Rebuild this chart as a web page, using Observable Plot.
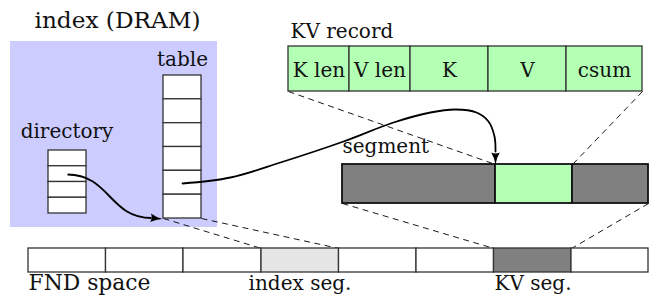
<!DOCTYPE html>
<html>
<head>
<meta charset="utf-8">
<script src="https://cdn.jsdelivr.net/npm/d3@7"></script>
<script src="https://cdn.jsdelivr.net/npm/@observablehq/plot@0.6"></script>
<style>
  html, body { margin: 0; padding: 0; background: #fff; }
  svg { display: block; }
</style>
</head>
<body>
<script>
// ---- Diagram data (diagram units) ----
// FND space: eight equal segments, two of them in use
const fndBounds = [28, 105.5, 183, 261, 338.5, 416, 493.5, 571, 648];
const fndKinds  = ["free", "free", "free", "index", "free", "free", "kv", "free"];
const fndTop = 248, fndBottom = 272;

// KV record fields
const kvFields = ["K len", "V len", "K", "V", "csum"];
const kvBounds = [288, 349, 410, 488, 566, 642];
const kvTop = 46, kvBottom = 91;

// segment (with one KV record inside)
const segBounds = [342, 495, 572, 648];
const segKinds  = ["other", "record", "other"];
const segTop = 164, segBottom = 203;

// index in DRAM: directory (4 slots) and table (6 slots)
const dirRows   = [150, 165.75, 181.5, 197.25, 213];
const dirX      = [48, 86];
const tableRows = [75, 98.8, 122.7, 146.5, 170.3, 194.2, 218];
const tableX    = [163, 201];
const dramBox   = [10, 217, 41, 227]; // x1, x2, y1, y2

// dashed "zoom" lines: [x1, y1, x2, y2]
const zoomLines = [
  [163, 218, 261, 248],
  [201, 218, 338.5, 248],
  [288, 91, 495, 164],
  [642, 91, 572, 164],
  [342, 203, 493.5, 248],
  [648, 203, 571, 248]
];

// pointer from directory slot to table
const dirPointer = [67, 174, 151, 217.5];
const dirPointerTip = [162, 218.5];
// pointer from table slot to KV record in segment (path)
const tablePointerX = [182, 230, 280, 343, 393, 430, 455, 476, 488, 494, 495];
const tablePointerY = [183, 177, 162, 141, 122, 112, 109, 112, 121, 136, 151];
const tablePointerTip = [495, 164];

// labels
const labelText = ["index (DRAM)", "table", "directory", "KV record", "segment", "FND space", "index seg.", "KV seg."];
const labelX    = [117, 182, 66.5, 290, 342, 28, 299.5, 532.5];
const labelY    = [27, 65, 137, 37, 152, 289, 289, 289];

// ---- Styles ----
const fills = {free: "#ffffff", index: "#e5e5e5", kv: "#808080", other: "#808080", record: "#b3ffb3"};
const largeLabels = ["index (DRAM)", "FND space"];
const startLabels = ["KV record", "segment", "FND space"];
const largeWidths = {"index (DRAM)": 166, "FND space": 122};
const serif = "DejaVu Serif";

// ---- Tables built from the arrays ----
const cells = (bounds, kinds) => kinds.map((k, i) => ({x1: bounds[i], x2: bounds[i + 1], kind: k}));
const fnd = cells(fndBounds, fndKinds).map(d => ({...d, y1: fndTop, y2: fndBottom}));
const kv = kvFields.map((f, i) => ({x1: kvBounds[i], x2: kvBounds[i + 1], y1: kvTop, y2: kvBottom, label: f, kind: "record"}));
const seg = cells(segBounds, segKinds).map(d => ({...d, y1: segTop, y2: segBottom}));
const rows = (ys, xs) => ys.slice(0, -1).map((y, i) => ({x1: xs[0], x2: xs[1], y1: y, y2: ys[i + 1], kind: "free"}));
const dir = rows(dirRows, dirX);
const table = rows(tableRows, tableX);
const zooms = zoomLines.map(([x1, y1, x2, y2]) => ({x1, y1, x2, y2}));
const path2 = tablePointerX.map((x, i) => ({x, y: tablePointerY[i]}));
const labels = labelText.map((t, i) => ({text: t, x: labelX[i], y: labelY[i]}));

// latex-like filled arrowhead, tip at origin, pointing up
const arrowHead = {
  draw(ctx) {
    const L = 12, w = 8.5;
    ctx.moveTo(0, 0);
    ctx.quadraticCurveTo(-w * 0.12, L * 0.55, -w / 2, L);
    ctx.quadraticCurveTo(0, L * 0.82, w / 2, L);
    ctx.quadraticCurveTo(w * 0.12, L * 0.55, 0, 0);
    ctx.closePath();
  }
};

const textMark = (anchor, large) => Plot.text(
  labels.filter(d => (startLabels.includes(d.text) ? "start" : "middle") === anchor && largeLabels.includes(d.text) === large),
  {x: "x", y: "y", text: "text", textAnchor: anchor, lineAnchor: "bottom",
   fontSize: large ? 22 : 20, fontFamily: serif, fill: "#111"}
);

const chart = Plot.plot({
  width: 652, height: 298, margin: 0,
  x: {domain: [0, 652], range: [0, 652], axis: null},
  y: {domain: [0, 298], range: [0, 298], axis: null},
  color: {type: "identity"},
  style: {background: "#fff", overflow: "visible", fontFamily: serif},
  marks: [
    Plot.rect([{x1: dramBox[0], x2: dramBox[1], y1: dramBox[2], y2: dramBox[3]}],
      {x1: "x1", x2: "x2", y1: "y1", y2: "y2", fill: "#ccccff"}),
    Plot.link(zooms, {x1: "x1", y1: "y1", x2: "x2", y2: "y2", stroke: "#000", strokeWidth: 0.9, strokeDasharray: "6,4.5"}),
    Plot.rect(fnd, {x1: "x1", x2: "x2", y1: "y1", y2: "y2", fill: d => fills[d.kind], stroke: "#333", strokeWidth: 1.3}),
    Plot.rect(kv, {x1: "x1", x2: "x2", y1: "y1", y2: "y2", fill: d => fills[d.kind], stroke: "#333", strokeWidth: 1.3}),
    Plot.rect(seg, {x1: "x1", x2: "x2", y1: "y1", y2: "y2", fill: d => fills[d.kind], stroke: "#111", strokeWidth: 1.8}),
    Plot.rect(dir, {x1: "x1", x2: "x2", y1: "y1", y2: "y2", fill: d => fills[d.kind], stroke: "#333", strokeWidth: 1.3}),
    Plot.rect(table, {x1: "x1", x2: "x2", y1: "y1", y2: "y2", fill: d => fills[d.kind], stroke: "#333", strokeWidth: 1.3}),
    Plot.link([{x1: dirPointer[0], y1: dirPointer[1], x2: dirPointer[2], y2: dirPointer[3]}],
      {x1: "x1", y1: "y1", x2: "x2", y2: "y2", curve: "bump-x", stroke: "#000", strokeWidth: 1.8}),
    Plot.dot([{x: dirPointerTip[0], y: dirPointerTip[1]}], {x: "x", y: "y", symbol: arrowHead, fill: "#000", stroke: "none", rotate: 96}),
    Plot.line(path2, {x: "x", y: "y", curve: "catmull-rom", stroke: "#000", strokeWidth: 1.8}),
    Plot.dot([{x: tablePointerTip[0], y: tablePointerTip[1]}], {x: "x", y: "y", symbol: arrowHead, fill: "#000", stroke: "none", rotate: 180}),
    Plot.text(kv, {x: d => (d.x1 + d.x2) / 2, y: 76, text: "label", textAnchor: "middle", lineAnchor: "bottom", fontSize: 20, fontFamily: serif, fill: "#111"}),
    textMark("middle", false),
    textMark("start", false),
    textMark("middle", true),
    textMark("start", true)
  ]
});

// serif face on every label; widen the two large labels to the reference widths
d3.select(chart).selectAll("text").each(function () {
  this.setAttribute("font-family", serif);
  this.style.fontFamily = serif;
  const w = largeWidths[this.textContent];
  if (w && this.getComputedTextLength && this.getComputedTextLength() < w) {
    this.setAttribute("textLength", w);
    this.setAttribute("lengthAdjust", "spacingAndGlyphs");
  }
});

document.body.appendChild(chart);
</script>
</body>
</html>
